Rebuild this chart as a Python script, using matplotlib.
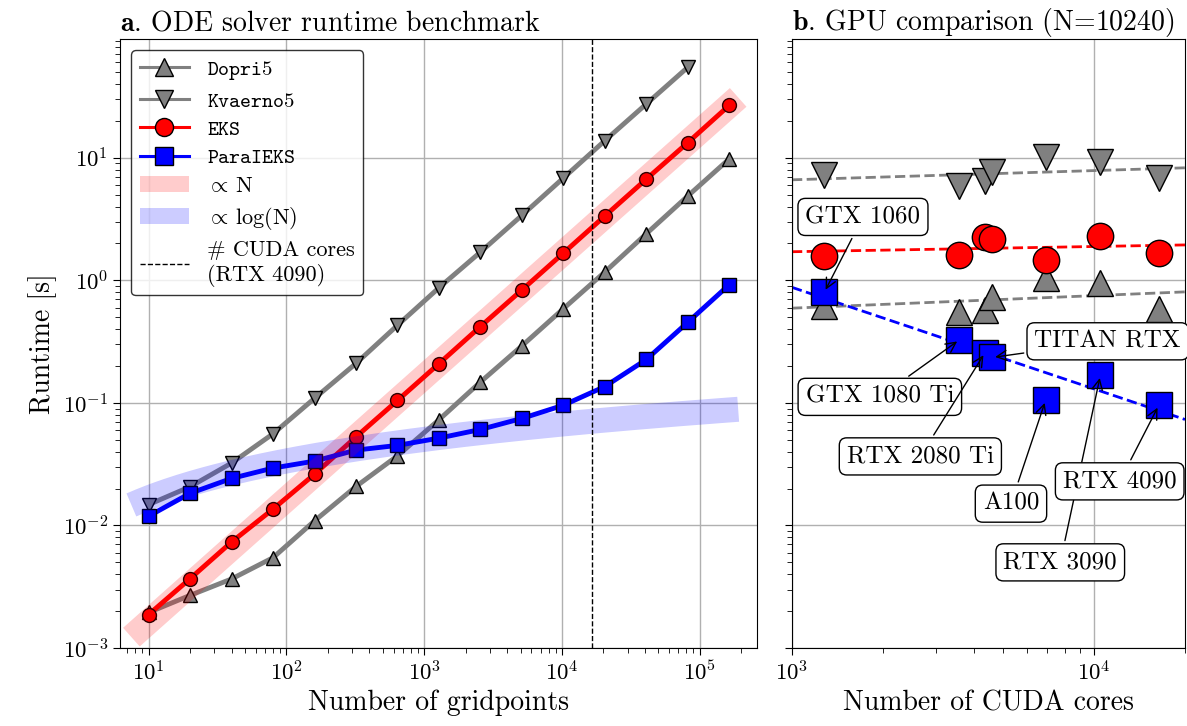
import numpy as np
import matplotlib.pyplot as plt
from matplotlib.lines import Line2D
from matplotlib.patches import Patch
from matplotlib.ticker import NullFormatter

# ---------------- data ----------------
N = [10, 20, 40, 80, 160, 320, 640, 1280, 2560, 5120, 10240, 20480, 40960, 81920, 163840]
dopri5 = [0.00195, 0.00269, 0.00366, 0.00546, 0.0109, 0.0208, 0.037, 0.0728,
          0.148, 0.292, 0.587, 1.17, 2.40, 4.88, 9.8]
kvaerno5 = [0.0148, 0.0207, 0.0323, 0.056, 0.109, 0.21, 0.43, 0.87,
            1.70, 3.39, 6.84, 13.8, 27.5, 54.8]
eks = [0.001875, 0.00368, 0.00733, 0.0136, 0.0262, 0.0528, 0.1047, 0.209,
       0.42, 0.835, 1.67, 3.35, 6.7, 13.3, 26.8]
paraieks = [0.0119, 0.0183, 0.0242, 0.0294, 0.0335, 0.0412, 0.045, 0.0516,
            0.0607, 0.0747, 0.0957, 0.136, 0.226, 0.455, 0.922]

band_range = (7.5, 1.9e5)
logn_scale = 0.0168
rtx4090_cores = 16384

gpus = ["GTX 1060", "GTX 1080 Ti", "RTX 2080 Ti", "TITAN RTX", "A100", "RTX 3090", "RTX 4090"]
cores = [1280, 3584, 4352, 4608, 6912, 10496, 16384]
gpu_dopri5 = [0.62, 0.55, 0.577, 0.736, 1.04, 0.955, 0.585]
gpu_kvaerno5 = [7.18, 5.84, 6.41, 7.69, 10.1, 9.23, 6.84]
gpu_eks = [1.59, 1.62, 2.26, 2.17, 1.46, 2.29, 1.67]
gpu_paraieks = [0.80, 0.327, 0.256, 0.235, 0.105, 0.168, 0.0957]

# ---------------- style ----------------
plt.rcParams['font.family'] = ['cmr10', 'DejaVu Serif']
plt.rcParams['mathtext.fontset'] = 'cm'
plt.rcParams['axes.formatter.use_mathtext'] = True
plt.rcParams['axes.unicode_minus'] = False
plt.rcParams['font.size'] = 16.5
plt.rcParams['xtick.major.size'] = 5
plt.rcParams['ytick.major.size'] = 5
plt.rcParams['xtick.minor.size'] = 3.5
plt.rcParams['ytick.minor.size'] = 3.5

fs = 20
tick_fs = 16.5
grey = '#808080'

fig = plt.figure(figsize=(11.87, 7.26), dpi=100)
ax1 = fig.add_axes([0.1011, 0.1074, 0.5366, 0.8388])
ax2 = fig.add_axes([0.6672, 0.1074, 0.3311, 0.8388], sharey=ax1)

# ---------------- a. runtime vs gridpoints ----------------
lw, ms = 3.5, 10
ax1.plot(N, dopri5, color=grey, marker='^', ms=ms, mec='k', lw=lw)
ax1.plot(N[:len(kvaerno5)], kvaerno5, color=grey, marker='v', ms=ms, mec='k', lw=lw)
ax1.plot(N, eks, color='red', marker='o', ms=ms, mec='k', lw=lw)
ax1.plot(N, paraieks, color='blue', marker='s', ms=ms, mec='k', lw=lw)

xs = np.geomspace(*band_range, 200)
ax1.plot(xs, eks[-1] / N[-1] * xs, color='red', alpha=0.2, lw=18, solid_capstyle='butt')
ax1.plot(xs, logn_scale * np.log10(xs), color='blue', alpha=0.2, lw=18, solid_capstyle='butt')
ax1.axvline(rtx4090_cores, color='k', ls='--', lw=1)

ax1.set_xscale('log')
ax1.set_yscale('log')
ax1.set_xlim(6.2, 2.6e5)
ax1.set_ylim(1e-3, 93)
ax1.grid(True, which='major', color='#b0b0b0', lw=1)
ax1.set_axisbelow(True)
ax1.tick_params(labelsize=tick_fs)
ax1.set_xlabel("Number of gridpoints", fontsize=fs)
ax1.set_ylabel("Runtime [s]", fontsize=fs)
ax1.set_title(r"$\mathbf{a}$. ODE solver runtime benchmark", loc='left', fontsize=fs)

handles = [
    Line2D([], [], color=grey, marker='^', ms=13, mec='k', lw=2.2),
    Line2D([], [], color=grey, marker='v', ms=13, mec='k', lw=2.2),
    Line2D([], [], color='red', marker='o', ms=13, mec='k', lw=2.2),
    Line2D([], [], color='blue', marker='s', ms=13, mec='k', lw=2.2),
    Patch(facecolor='red', alpha=0.2, lw=0),
    Patch(facecolor='blue', alpha=0.2, lw=0),
    Line2D([], [], color='k', ls='--', lw=1),
]
labels = [r"$\mathtt{Dopri5}$", r"$\mathtt{Kvaerno5}$", r"$\mathtt{EKS}$", r"$\mathtt{ParaIEKS}$",
          r"$\propto\,$N", r"$\propto\,$log(N)", "# CUDA cores\n(RTX 4090)"]
leg = ax1.legend(handles, labels, loc='upper left', fontsize=16, handlelength=2.2,
                 labelspacing=0.4, edgecolor='black', framealpha=0.8, fancybox=True)
for t in leg.get_texts()[:4]:
    t.set_fontsize(15)

# ---------------- b. GPU comparison ----------------
xf = np.geomspace(1e3, 2e4, 50)
for vals, col in [(gpu_kvaerno5, grey), (gpu_eks, 'red'), (gpu_dopri5, grey), (gpu_paraieks, 'blue')]:
    p = np.polyfit(np.log10(cores), np.log10(vals), 1)
    ax2.plot(xf, 10 ** np.polyval(p, np.log10(xf)), color=col, ls='--', lw=2)

mb = 19
ax2.plot(cores, gpu_dopri5, ls='none', marker='^', ms=mb, color=grey, mec='k')
ax2.plot(cores, gpu_kvaerno5, ls='none', marker='v', ms=mb, color=grey, mec='k')
ax2.plot(cores, gpu_eks, ls='none', marker='o', ms=mb, color='red', mec='k')
ax2.plot(cores, gpu_paraieks, ls='none', marker='s', ms=mb, color='blue', mec='k')

label_pos = {
    "GTX 1060": (1718, 3.29),
    "GTX 1080 Ti": (1954, 0.112),
    "RTX 2080 Ti": (2661, 0.0366),
    "TITAN RTX": (11100, 0.318),
    "A100": (5309, 0.01507),
    "RTX 3090": (7730, 0.0050),
    "RTX 4090": (12160, 0.0229),
}
for name, c, t in zip(gpus, cores, gpu_paraieks):
    ax2.annotate(name, xy=(c, t), xytext=label_pos[name], ha='center', va='center', fontsize=18,
                 bbox=dict(boxstyle='round,pad=0.3', fc='white', ec='black', lw=1),
                 arrowprops=dict(arrowstyle='->', color='black', lw=1, shrinkB=2))

ax2.set_xscale('log')
ax2.set_xlim(1e3, 2e4)
ax2.xaxis.set_minor_formatter(NullFormatter())
ax2.tick_params(labelleft=False, labelsize=tick_fs)
ax2.grid(True, which='major', color='#b0b0b0', lw=1)
ax2.set_axisbelow(True)
ax2.set_xlabel("Number of CUDA cores", fontsize=fs)
ax2.set_title(r"$\mathbf{b}$. GPU comparison (N=10240)", loc='left', fontsize=fs)

fig.savefig("out.png", dpi=100)
